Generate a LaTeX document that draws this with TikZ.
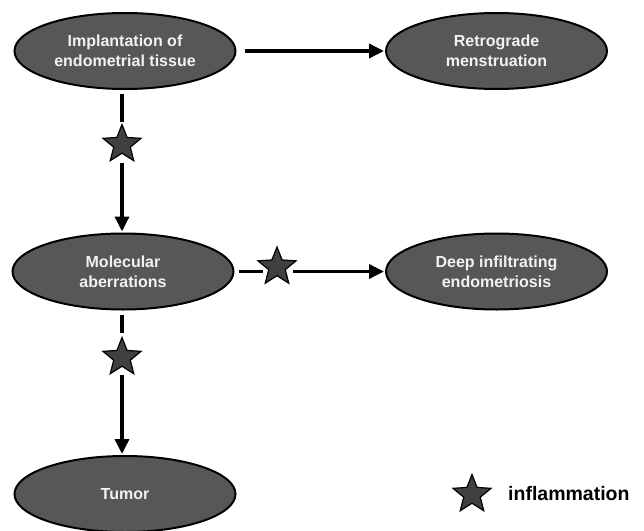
\documentclass[tikz,border=0pt]{standalone}
\usepackage{fontspec}
\setmainfont{Liberation Sans}
\usetikzlibrary{shapes.geometric,arrows.meta}
\definecolor{ellfill}{HTML}{575757}
\definecolor{starfill}{HTML}{404040}
\definecolor{txt}{HTML}{F2F2F2}
\begin{document}
\begin{tikzpicture}[x=1pt,y=-1pt,
  oval/.style={ellipse, draw=black, line width=2pt, fill=ellfill,
    minimum width=221pt, minimum height=76pt, inner sep=0pt, text=txt,
    font=\bfseries\fontsize{16}{20}\selectfont, align=center},
  starnode/.style={star, star points=5, star point ratio=2.3, draw=black,
    line width=1.2pt, fill=starfill, minimum size=40pt, inner sep=0pt},
  conn/.style={line width=3.5pt, black},
  arr/.style={conn, -{Triangle[length=15pt,width=14pt]}}]
\useasboundingbox (0,0) rectangle (644,530);

\node[oval] (imp) at (125,51) {Implantation of\\endometrial tissue};
\node[oval] (ret) at (496.5,51) {Retrograde\\menstruation};
\node[oval] (mol) at (123,271.5) {Molecular\\aberrations};
\node[oval] (deep) at (496.5,271.5) {Deep infiltrating\\endometriosis};
\node[oval] (tum) at (125,494) {Tumor};

\node[starnode] (s1) at (122,144.5) {};
\node[starnode] (s2) at (122,357.5) {};
\node[starnode] (s3) at (277,267) {};

% top horizontal arrow
\draw[arr, shorten <=8pt, shorten >=1pt] (imp.east) -- (ret.west);

% vertical 1
\draw[conn, shorten <=4pt] (imp.south -| s1.center) -- ([yshift=22.5pt]s1.center);
\draw[arr, shorten >=1pt] ([yshift=-18pt]s1.center) -- (mol.north -| s1.center);

% horizontal 2
\draw[conn, shorten <=4pt] (mol.east) -- ([xshift=-14pt]s3.center |- mol.east);
\draw[arr, shorten >=1pt] ([xshift=16pt]s3.center |- mol.east) -- (deep.west);

% vertical 2
\draw[conn, shorten <=4pt] (mol.south -| s2.center) -- ([yshift=24.5pt]s2.center);
\draw[arr, shorten >=1pt] ([yshift=-17.5pt]s2.center) -- (tum.north -| s2.center);

% legend
\node[starnode] (ls) at (472,494.5) {};
\node[anchor=base west, inner sep=0pt, font=\bfseries\fontsize{19.5}{22}\selectfont] (lt) at (508,500) {inflammation};
\end{tikzpicture}
\end{document}
